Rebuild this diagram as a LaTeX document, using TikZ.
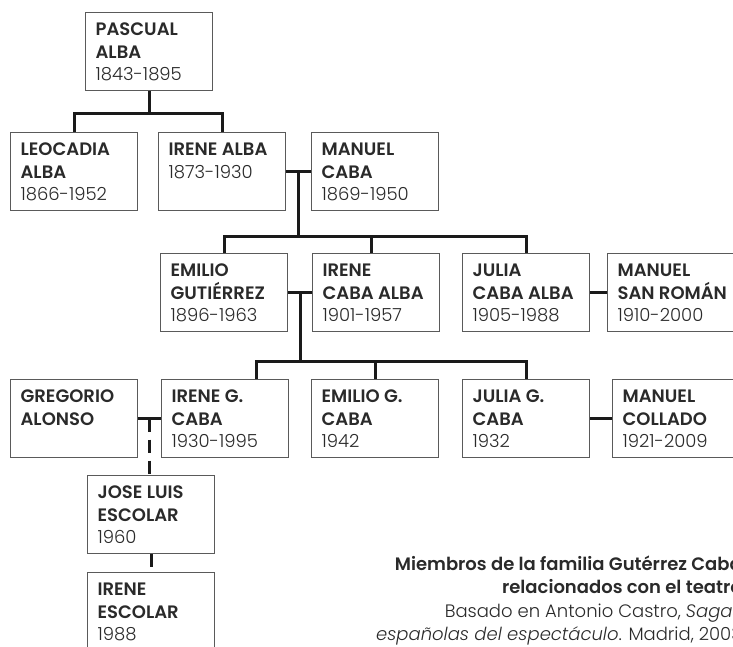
\documentclass[tikz,border=0pt]{standalone}
\usepackage{fontspec}
\setmainfont{Poppins}[UprightFont={* Light}, ItalicFont={* Light Italic}, BoldFont={* SemiBold}]
\definecolor{boxgray}{HTML}{5A5A5A}
\definecolor{lk}{HTML}{1A1A1A}
\definecolor{txt}{HTML}{2A2A2A}
\newcommand\pp[1]{\parbox[c][78pt][t]{107pt}{\fontsize{18}{22.5}\selectfont\raggedright\rule{0pt}{23pt}#1}}
\begin{document}
\begin{tikzpicture}[x=1pt,y=-1pt,
  box/.style={draw=boxgray, line width=1.2pt, anchor=north west, inner xsep=10pt, inner ysep=0pt, minimum width=127pt, minimum height=78pt, text=txt},
  link/.style={line width=3pt, draw=lk},
  dlink/.style={link, dash pattern=on 13pt off 8pt},
  captxt/.style={anchor=base east, inner sep=0pt, text=txt, font=\fontsize{18}{22}\selectfont}]
\useasboundingbox (0,0) rectangle (733,647);
\clip (0,0) rectangle (733,647);
% generation 1
\node[box] (pascual) at (85,12) {\pp{\textbf{PASCUAL}\\\textbf{ALBA}\\1843-1895}};
% generation 2
\node[box] (leocadia) at (10,132) {\pp{\textbf{LEOCADIA}\\\textbf{ALBA}\\1866-1952}};
\node[box] (irenealba) at (158,132) {\pp{\textbf{IRENE ALBA}\\1873-1930}};
\node[box] (manuelcaba) at (311,132) {\pp{\textbf{MANUEL}\\\textbf{CABA}\\1869-1950}};
% generation 3
\node[box] (emilio) at (160,253) {\pp{\textbf{EMILIO}\\\textbf{GUTIÉRREZ}\\1896-1963}};
\node[box] (irenecaba) at (312,253) {\pp{\textbf{IRENE}\\\textbf{CABA ALBA}\\1901-1957}};
\node[box] (juliacaba) at (462,253) {\pp{\textbf{JULIA}\\\textbf{CABA ALBA}\\1905-1988}};
\node[box] (sanroman) at (607,253) {\pp{\textbf{MANUEL}\\\mbox{\textbf{SAN ROMÁN}}\\1910-2000}};
% generation 4
\node[box] (gregorio) at (10,379) {\pp{\textbf{GREGORIO}\\\textbf{ALONSO}}};
\node[box] (ireneg) at (161,379) {\pp{\textbf{IRENE G.}\\\textbf{CABA}\\1930-1995}};
\node[box] (emiliog) at (311,379) {\pp{\textbf{EMILIO G.}\\\textbf{CABA}\\1942}};
\node[box] (juliag) at (462,379) {\pp{\textbf{JULIA G.}\\\textbf{CABA}\\1932}};
\node[box] (collado) at (612,379) {\pp{\textbf{MANUEL}\\\textbf{COLLADO}\\1921-2009}};
% generations 5 and 6
\node[box] (joseluis) at (87,475) {\pp{\textbf{JOSE LUIS}\\\textbf{ESCOLAR}\\1960}};
\node[box] (ireneescolar) at (87,572) {\pp{\textbf{IRENE}\\\textbf{ESCOLAR}\\1988}};
% helper coordinates (bar heights)
\coordinate (bar0) at (0,114);
\coordinate (bar1) at (0,236);
\coordinate (bar2) at (0,361);
% Pascual -> children
\draw[link] (pascual.south) -- (pascual.south |- bar0);
\draw[link] (leocadia.north) -- (leocadia.north |- bar0) -- (irenealba.north |- bar0) -- (irenealba.north);
% Irene Alba + Manuel Caba
\draw[link] (irenealba.east) -- (manuelcaba.west) coordinate[midway] (m1);
\draw[link] (m1) -- (m1 |- bar1);
\coordinate (icn) at ([xshift=-5pt]irenecaba.north);
\draw[link] (emilio.north) -- (emilio.north |- bar1) -- (juliacaba.north |- bar1) -- (juliacaba.north);
\draw[link] (icn) -- (icn |- bar1);
% Emilio + Irene Caba Alba
\draw[link] (emilio.east) -- (irenecaba.west) coordinate[midway] (m2);
\draw[link] (m2) -- (m2 |- bar2);
\coordinate (ign) at ([xshift=31.5pt]ireneg.north);
\draw[link] (ign) -- (ign |- bar2) -- (juliag.north |- bar2) -- (juliag.north);
\draw[link] (emiliog.north) -- (emiliog.north |- bar2);
% Julia + Manuel San Roman
\draw[link] (juliacaba.east) -- (sanroman.west);
% Julia G. + Manuel Collado
\draw[link] (juliag.east) -- (collado.west);
% Gregorio + Irene G.
\draw[link] (gregorio.east) -- (ireneg.west) coordinate[midway] (m3);
\draw[dlink] (m3) -- (m3 |- joseluis.north);
\draw[dlink] (joseluis.south) -- (ireneescolar.north);
% caption
\node[captxt] (cap1) at (742,570) {\textbf{Miembros de la familia Gutérrez Caba}};
\node[captxt] (cap2) at (742,593) {\textbf{relacionados con el teatro}};
\node[captxt] (cap3) at (742,617) {Basado en Antonio Castro, \textit{Sagas}};
\node[captxt] (cap4) at (742,640) {\textit{españolas del espectáculo}. Madrid, 2003};
\end{tikzpicture}
\end{document}
